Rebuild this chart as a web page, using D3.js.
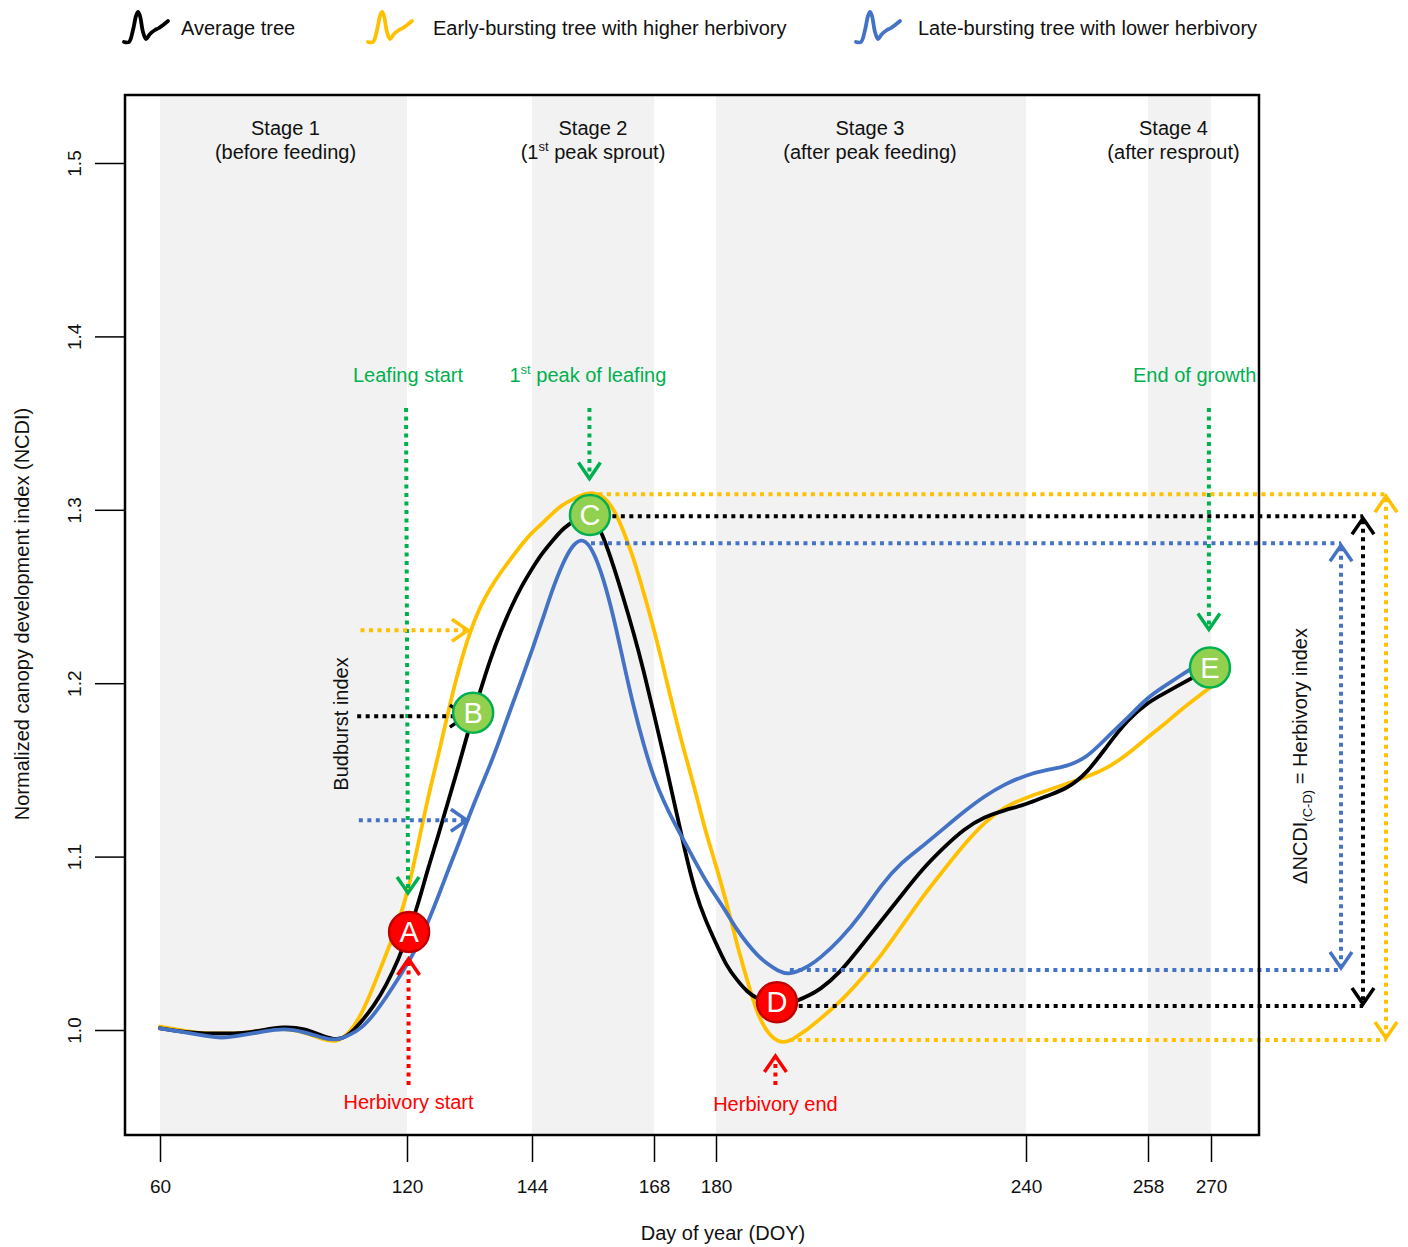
<!DOCTYPE html>
<html><head><meta charset="utf-8">
<script src="https://cdn.jsdelivr.net/npm/d3@7"></script>
<style>
body{margin:0;background:#fff;}
svg{display:block;}
text{font-family:"Liberation Sans",Arial,Helvetica,sans-serif;}
</style>
</head><body>
<svg id="chart" width="1408" height="1247"></svg>
<script>
// ---------------- DATA ----------------
const doy = [60,65,70,75,80,85,90,95,
  100,103,106,109,112,115,118,
  120,122,124,126,128,130,132,134,136,138,140,142,144,146,148,150,152,154,156,158,160,162,164,166,168,
  170,172,174,176,178,180,182,184,186,188,190,192,194,196,198,200,
  204,208,212,216,220,224,228,232,236,240,
  243,246,249,252,255,258,
  261,264,267,270];

const averageTree = [1.001,0.999,0.998,0.998,0.998,1.000,1.002,1.001,
  0.996,0.994,0.997,1.005,1.014,1.026,1.041,
  1.054,1.071,1.093,1.112,1.133,1.153,1.175,1.195,1.214,1.230,1.244,1.256,1.266,1.275,1.282,1.289,1.293,1.297,1.297,1.285,1.268,1.249,1.229,1.207,1.182,
  1.157,1.130,1.103,1.079,1.063,1.050,1.037,1.029,1.022,1.018,1.016,1.015,1.016,1.017,1.020,1.023,
  1.033,1.048,1.063,1.078,1.093,1.105,1.116,1.123,1.127,1.130,
  1.135,1.139,1.148,1.164,1.179,1.189,
  1.194,1.199,1.204,1.209];

const earlyTree = [1.002,1.000,0.998,0.998,0.998,1.000,1.001,0.999,
  0.994,0.993,0.998,1.009,1.026,1.044,1.063,
  1.078,1.105,1.134,1.158,1.185,1.209,1.229,1.244,1.255,1.264,1.272,1.280,1.287,1.292,1.298,1.303,1.306,1.309,1.310,1.308,1.301,1.288,1.272,1.252,1.231,
  1.207,1.182,1.159,1.138,1.114,1.095,1.074,1.050,1.029,1.009,0.998,0.993,0.993,0.997,1.001,1.006,
  1.016,1.029,1.043,1.060,1.077,1.092,1.107,1.120,1.129,1.134,
  1.138,1.142,1.146,1.151,1.159,1.169,
  1.176,1.184,1.191,1.198];

const lateTree = [1.001,0.999,0.997,0.995,0.997,0.999,1.001,0.999,
  0.995,0.994,0.997,1.001,1.009,1.019,1.030,
  1.038,1.048,1.062,1.077,1.093,1.108,1.124,1.139,1.153,1.169,1.186,1.202,1.219,1.236,1.254,1.269,1.280,1.284,1.277,1.261,1.239,1.212,1.186,1.164,1.145,
  1.131,1.119,1.108,1.097,1.086,1.077,1.068,1.058,1.050,1.043,1.038,1.034,1.032,1.034,1.037,1.041,
  1.052,1.066,1.084,1.097,1.106,1.116,1.126,1.135,1.142,1.147,
  1.150,1.152,1.157,1.169,1.180,1.192,
  1.198,1.204,1.210,1.213];

const xTicks = [60,120,144,168,180,240,258,270];
const yTicks = [1.0,1.1,1.2,1.3,1.4,1.5];

const stageStart = [60,144,180,258];
const stageEnd   = [120,168,240,270];
const stageTitle = ["Stage 1","Stage 2","Stage 3","Stage 4"];
const stageSub   = ["(before feeding)","(1|st| peak sprout)","(after peak feeding)","(after resprout)"];

const seriesNames  = ["Average tree","Early-bursting tree with higher herbivory","Late-bursting tree with lower herbivory"];

// key points A-E
const pointLabel = ["A","B","C","D","E"];
const pointDoy   = [120.4,132.7,155.4,191.8,269.8];
const pointVal   = [1.0565,1.183,1.297,1.016,1.209];
const pointKind  = ["red","green","green","red","green"];

// green phenology arrows
const phenoLabel = ["Leafing start","1|st| peak of leafing","End of growth"];
const phenoLabelDoy = [120.2,155,266.9];
const phenoDoy   = [120.2,155.3,269.6];
const phenoTip   = [1.079,1.318,1.231];

// red herbivory arrows
const herbLabel = ["Herbivory start","Herbivory end"];
const herbDoy   = [120.3,191.5];
const herbTip   = [1.041,0.985];

// budburst index arrows (early, average, late)
const budVal  = [1.2305,1.181,1.121];
const budFrom = [108.7,107.9,108.3];
const budTo   = [131.7,131.3,131.5];

// peak / minimum of each series (early, average, late)
const peakVal  = [1.309,1.2963,1.2807];
const peakDoy  = [155.4,159.8,155.6];
const minVal   = [0.9942,1.0138,1.0346];
const minDoy   = [194.2,196.0,194.3];

// ---------------- CHART ----------------
const frame = {left:125, top:95, right:1259, bottom:1135};
const col = {avg:"#000000", early:"#FFC000", late:"#4472C4", green:"#00B050", red:"#FF0000", band:"#F2F2F2"};
const FS = 20;

const svg = d3.select("#chart");

const x = d3.scaleLinear().domain(xTicks).range([160,407,532,654,716,1026,1148,1211]);
const y = d3.scaleLinear().domain([1.0,1.5]).range([1030,163]);

// stage bands
svg.append("g").selectAll("rect").data(stageStart).join("rect")
  .attr("x", (d,i)=>x(d)).attr("width",(d,i)=>x(stageEnd[i])-x(d))
  .attr("y", frame.top).attr("height", frame.bottom-frame.top)
  .attr("fill", col.band);

function addRich(t, str, supSize){
  const parts = str.split("|");
  parts.forEach((p,i)=>{
    if(i===1){
      t.append("tspan").attr("dy",-8).attr("font-size",supSize).text(p);
    } else if(i===2){
      t.append("tspan").attr("dy",8).text(p);
    } else t.append("tspan").text(p);
  });
}

// stage labels
const stg = svg.append("g").attr("font-size",FS).attr("text-anchor","middle").attr("fill","#111");
stageStart.forEach((s,i)=>{
  const cx = (x(s)+x(stageEnd[i]))/2 - (i===3?6:0) + (i===0?2:0) - (i===2?1:0);
  stg.append("text").attr("x",cx).attr("y",135).text(stageTitle[i]);
  const t = stg.append("text").attr("x",cx).attr("y",159);
  addRich(t, stageSub[i], 13);
});

// curves
const line = d3.line().x((d,i)=>x(doy[i])).y(d=>y(d)).curve(d3.curveBasis);
const curves = [[earlyTree,col.early],[averageTree,col.avg],[lateTree,col.late]];
svg.append("g").selectAll("path").data(curves).join("path")
  .attr("d", d=>line(d[0])).attr("fill","none").attr("stroke",d=>d[1])
  .attr("stroke-width",3.8).attr("stroke-linejoin","round").attr("stroke-linecap","round");

// chevron helper
function chevron(g, px, py, dir, color, hw=11, len=16, sw=3.5){
  let d;
  if(dir==="down") d=`M${px-hw},${py-len}L${px},${py}L${px+hw},${py-len}`;
  else if(dir==="up") d=`M${px-hw},${py+len}L${px},${py}L${px+hw},${py+len}`;
  else d=`M${px-len},${py-hw}L${px},${py}L${px-len},${py+hw}`;
  g.append("path").attr("d",d).attr("fill","none").attr("stroke",color).attr("stroke-width",sw).attr("stroke-linejoin","miter");
}
const dash = "4,4.5";
const ann = svg.append("g");

// green phenology arrows
phenoLabel.forEach((lab,i)=>{
  const px = x(phenoDoy[i]);
  ann.append("line").attr("x1",x(phenoDoy[i])-(i===0?2:0)).attr("x2",px).attr("y1",408).attr("y2",y(phenoTip[i])-2)
    .attr("stroke",col.green).attr("stroke-width",4).attr("stroke-dasharray",dash);
  chevron(ann, px, y(phenoTip[i]), "down", col.green);
  const t = ann.append("text").attr("x",x(phenoLabelDoy[i])).attr("y",382).attr("text-anchor","middle")
    .attr("font-size",FS).attr("fill",col.green);
  addRich(t, lab, 13);
});

// red herbivory arrows
herbLabel.forEach((lab,i)=>{
  const px = x(herbDoy[i]);
  ann.append("line").attr("x1",px).attr("x2",px).attr("y1",1085).attr("y2",y(herbTip[i])+2)
    .attr("stroke",col.red).attr("stroke-width",4).attr("stroke-dasharray",dash);
  chevron(ann, px, y(herbTip[i]), "up", col.red);
  ann.append("text").attr("x",px).attr("y",1109+i*2).attr("text-anchor","middle")
    .attr("font-size",FS).attr("fill",col.red).text(lab);
});

// budburst arrows
const budCols = [col.early,col.avg,col.late];
budVal.forEach((v,i)=>{
  ann.append("line").attr("x1",x(budFrom[i])).attr("x2",x(budTo[i])-2).attr("y1",y(v)).attr("y2",y(v))
    .attr("stroke",budCols[i]).attr("stroke-width",4).attr("stroke-dasharray",dash);
  chevron(ann, x(budTo[i]), y(v), "right", budCols[i]);
});
ann.append("text").attr("transform","translate(348,724) rotate(-90)").attr("text-anchor","middle")
  .attr("font-size",FS).attr("fill","#111").text("Budburst index");

// right-side herbivory index arrows
const vx = [frame.right+127, frame.right+104, frame.right+82];
peakVal.forEach((pv,i)=>{
  const c = budCols[i];
  ann.append("line").attr("x1",x(peakDoy[i])).attr("x2",vx[i]).attr("y1",y(pv)).attr("y2",y(pv))
    .attr("stroke",c).attr("stroke-width",4).attr("stroke-dasharray",dash);
  ann.append("line").attr("x1",x(minDoy[i])).attr("x2",vx[i]).attr("y1",y(minVal[i])).attr("y2",y(minVal[i]))
    .attr("stroke",c).attr("stroke-width",4).attr("stroke-dasharray",dash);
  ann.append("line").attr("x1",vx[i]).attr("x2",vx[i]).attr("y1",y(pv)+4).attr("y2",y(minVal[i])-4)
    .attr("stroke",c).attr("stroke-width",4).attr("stroke-dasharray",dash);
  chevron(ann, vx[i], y(pv)+2, "up", c);
  chevron(ann, vx[i], y(minVal[i])-2, "down", c);
});
const dt = ann.append("text").attr("transform","translate(1307,756) rotate(-90)").attr("text-anchor","middle")
  .attr("font-size",FS).attr("fill","#111");
dt.append("tspan").text("ΔNCDI");
dt.append("tspan").attr("font-size",13).attr("dy",5).text("(C-D)");
dt.append("tspan").attr("dy",-5).text(" = Herbivory index");

// key points
const pg = svg.append("g");
pointLabel.forEach((lab,i)=>{
  const red = pointKind[i]==="red";
  pg.append("circle").attr("cx",x(pointDoy[i])).attr("cy",y(pointVal[i])).attr("r",20)
    .attr("fill", red?"#FF0000":"#92D050").attr("stroke", red?"#C00000":"#00B050").attr("stroke-width",2.5);
  pg.append("text").attr("x",x(pointDoy[i])).attr("y",y(pointVal[i])+10).attr("text-anchor","middle")
    .attr("font-size",29).attr("fill","#fff").text(lab);
});

// frame
svg.append("rect").attr("x",frame.left).attr("y",frame.top)
  .attr("width",frame.right-frame.left).attr("height",frame.bottom-frame.top)
  .attr("fill","none").attr("stroke","#000").attr("stroke-width",2.5);

// axes
const xAxis = d3.axisBottom(x).tickValues(xTicks).tickSize(27).tickPadding(18).tickFormat(d3.format("d"));
const gx = svg.append("g").attr("transform",`translate(0,${frame.bottom})`).call(xAxis);
gx.select(".domain").remove();
gx.selectAll(".tick line").attr("stroke","#000").attr("stroke-width",1.5);
gx.selectAll(".tick text").attr("font-size",19).attr("fill","#111").attr("font-family","Liberation Sans, Arial, sans-serif");

const yAxis = d3.axisLeft(y).tickValues(yTicks).tickSize(30).tickFormat(d3.format(".1f"));
const gy = svg.append("g").attr("transform",`translate(${frame.left},0)`).call(yAxis);
gy.select(".domain").remove();
gy.selectAll(".tick line").attr("stroke","#000").attr("stroke-width",1.5);
gy.selectAll(".tick text").attr("font-size",19).attr("fill","#111").attr("font-family","Liberation Sans, Arial, sans-serif")
  .attr("text-anchor","middle").attr("x",0).attr("dy",0)
  .attr("transform","translate(-44,0) rotate(-90)");

svg.append("text").attr("x",723).attr("y",1240).attr("text-anchor","middle").attr("font-size",FS).attr("fill","#111")
  .text("Day of year (DOY)");
svg.append("text").attr("transform","translate(29,614) rotate(-90)").attr("text-anchor","middle").attr("font-size",FS).attr("fill","#111")
  .text("Normalized canopy development index (NCDI)");

// legend
const glyph = [[0,30],[5,30],[9,18],[12,4],[14,0],[16,4],[19,20],[22,27],[26,22],[31,18],[35,16],[44,9]];
const glyphLine = d3.line().curve(d3.curveCatmullRom.alpha(0.5));
const legX = [124,368,856];
const legT = [181,433,918];
const legCols = [col.avg,col.early,col.late];
seriesNames.forEach((nm,i)=>{
  svg.append("path").attr("d",glyphLine(glyph)).attr("transform",`translate(${legX[i]},12)`)
    .attr("fill","none").attr("stroke",legCols[i]).attr("stroke-width",3.8).attr("stroke-linecap","round").attr("stroke-linejoin","round");
  svg.append("text").attr("x",legT[i]).attr("y",35).attr("font-size",FS).attr("fill","#111").text(nm);
});
</script>
</body></html>
